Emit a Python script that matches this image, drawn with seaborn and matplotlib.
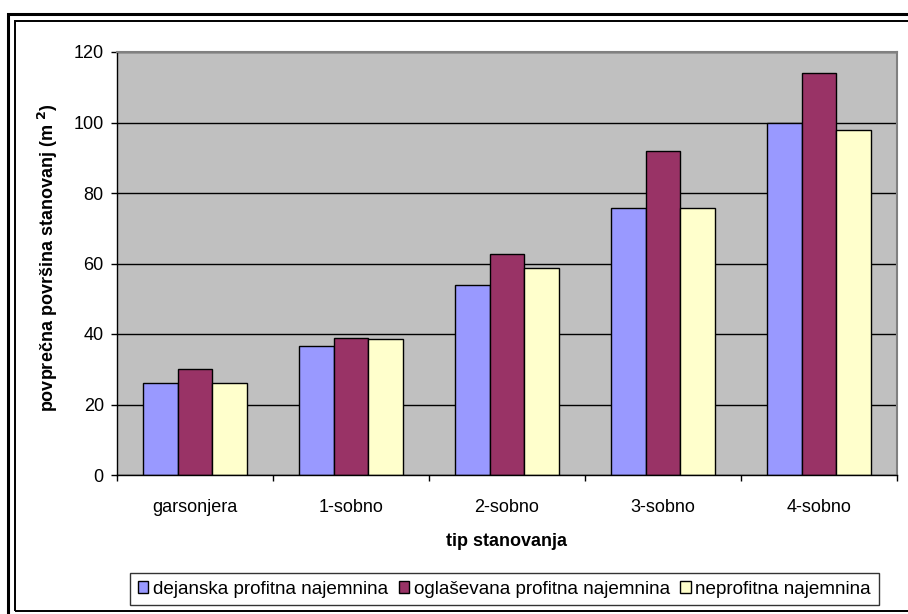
import matplotlib
matplotlib.use("Agg")
import matplotlib.pyplot as plt
from matplotlib.patches import Rectangle
import pandas as pd
import seaborn as sns

# Average dwelling area by dwelling type and rent category
categories = ["garsonjera", "1-sobno", "2-sobno", "3-sobno", "4-sobno"]
series_names = ["dejanska profitna najemnina",
                "oglaševana profitna najemnina",
                "neprofitna najemnina"]
dejanska = [26, 36.6, 54, 75.7, 100]
oglasevana = [30, 39, 62.8, 92, 114]
neprofitna = [26, 38.7, 58.7, 75.7, 98]
y_ticks = [0, 20, 40, 60, 80, 100, 120]
colors = ["#9999FF", "#993366", "#FFFFCC"]

rows = []
for name, vals in zip(series_names, [dejanska, oglasevana, neprofitna]):
    for cat, v in zip(categories, vals):
        rows.append({"tip": cat, "povrsina": v, "serija": name})
df = pd.DataFrame(rows)

plt.rcParams["font.family"] = ["Liberation Sans", "DejaVu Sans"]

W, H = 908, 614
fig = plt.figure(figsize=(W / 100, H / 100), dpi=100)
fig.patch.set_facecolor("white")

left, right, top, bottom = 117, 897, 52, 475
ax = fig.add_axes([left / W, 1 - bottom / H, (right - left) / W, (bottom - top) / H])
ax.set_facecolor("#C0C0C0")

sns.barplot(data=df, x="tip", y="povrsina", hue="serija",
            order=categories, hue_order=series_names, palette=colors,
            width=0.667, gap=0, edgecolor="black", linewidth=1.0,
            saturation=1, errorbar=None, ax=ax)

handles, labels = ax.get_legend_handles_labels()
if ax.get_legend() is not None:
    ax.get_legend().remove()

ax.set_ylim(0, 120)
ax.set_xlim(-0.5, len(categories) - 0.5)
ax.set_yticks(y_ticks)
ax.yaxis.grid(True, color="black", linewidth=1.0)
ax.set_axisbelow(True)

# category labels centred, tick marks on category boundaries
ax.set_xticks(range(len(categories)))
ax.set_xticklabels(categories)
ax.set_xticks([i - 0.5 for i in range(len(categories) + 1)], minor=True)
ax.tick_params(axis="x", which="major", length=0, pad=17, labelsize=13)
ax.tick_params(axis="x", which="minor", length=4.5, width=1, direction="out")
ax.tick_params(axis="y", length=4.5, width=1, direction="out", pad=5, labelsize=13)
ax.set_xlabel("")
ax.set_ylabel("")

for s in ["left", "bottom"]:
    ax.spines[s].set_color("black")
    ax.spines[s].set_linewidth(1.0)
for s in ["top", "right"]:
    ax.spines[s].set_color("#808080")
    ax.spines[s].set_linewidth(1.5)

fig.text(48 / W, 1 - 258 / H, "povprečna površina stanovanj (m $^{\\mathbf{2}}$)",
         rotation=90, ha="center", va="center", fontsize=13, fontweight="bold")
fig.text(507 / W, 1 - 541 / H, "tip stanovanja",
         ha="center", va="center", fontsize=13, fontweight="bold")

leg = fig.legend(handles, labels, loc="center",
                 bbox_to_anchor=(504.5 / W, 1 - 589 / H), bbox_transform=fig.transFigure,
                 ncol=3, frameon=True, fancybox=False, edgecolor="black",
                 fontsize=13.6, handlelength=0.55, handleheight=0.55,
                 handletextpad=0.25, columnspacing=0.55, borderpad=0.4,
                 borderaxespad=0)
leg.get_frame().set_linewidth(1.0)

# double frame around the chart
fig.add_artist(Rectangle((8 / W, -0.1), 1.2, 1 - 13.5 / H + 0.1, transform=fig.transFigure,
                         fill=False, edgecolor="black", linewidth=2.2, clip_on=False))
fig.add_artist(Rectangle((14.5 / W, 1 - 611 / H), 1.2, (611 - 21) / H, transform=fig.transFigure,
                         fill=False, edgecolor="black", linewidth=1.4, clip_on=False))

fig.savefig("out.png", dpi=100)
